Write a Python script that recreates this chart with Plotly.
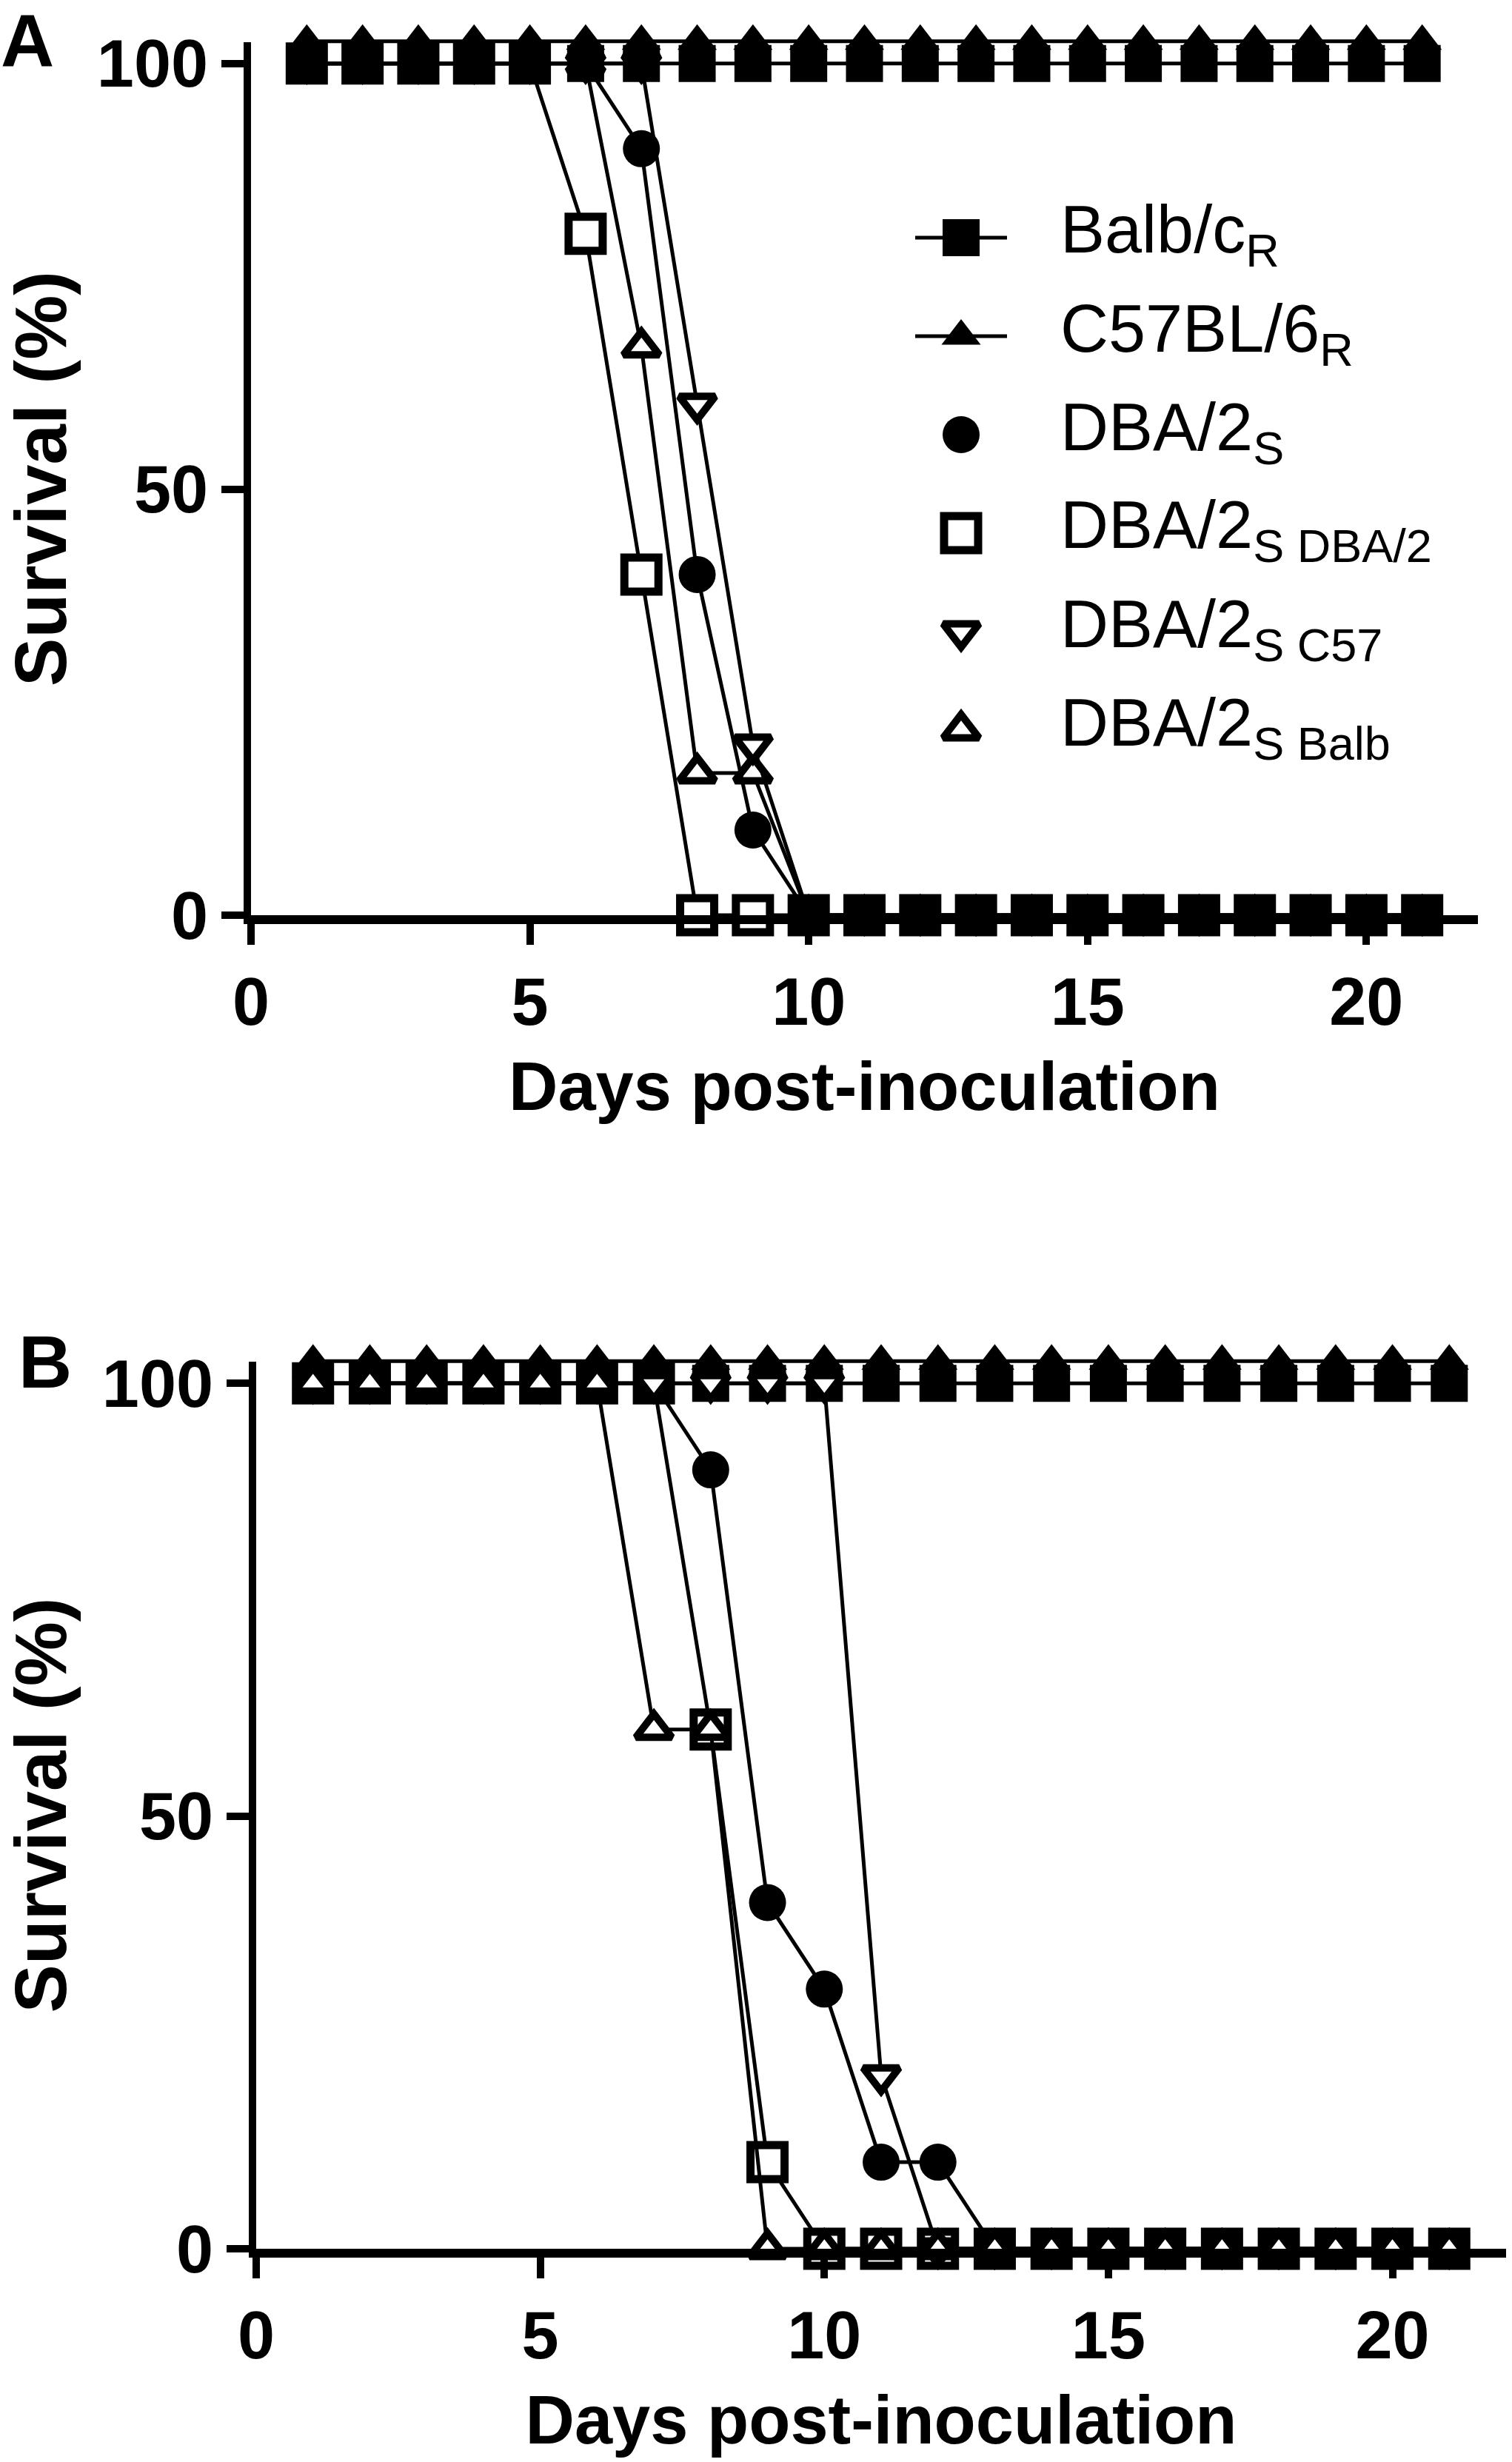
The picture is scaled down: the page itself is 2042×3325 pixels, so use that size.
import plotly.graph_objects as go

# ---------------- data ----------------
days = [1, 2, 3, 4, 5, 6, 7, 8, 9, 10, 11, 12, 13, 14, 15, 16, 17, 18, 19, 20, 21]

x_ticks = [0, 5, 10, 15, 20]
y_ticks = [0, 50, 100]
x_title = "Days post-inoculation"
y_title = "Survival (%)"

legend_labels = ["Balb/c<sub>R</sub>", "C57BL/6<sub>R</sub>", "DBA/2<sub>S</sub>",
                 "DBA/2<sub>S DBA/2</sub>", "DBA/2<sub>S C57</sub>", "DBA/2<sub>S Balb</sub>"]
series_keys = ["balb", "c57", "dba", "dba_dba", "dba_c57", "dba_balb"]

# Panel A
A_balb     = [100, 100, 100, 100, 100, 100, 100, 100, 100, 100, 100, 100, 100, 100, 100, 100, 100, 100, 100, 100, 100]
A_c57      = [100, 100, 100, 100, 100, 100, 100, 100, 100, 100, 100, 100, 100, 100, 100, 100, 100, 100, 100, 100, 100]
A_dba      = [100, 100, 100, 100, 100, 100, 90, 40, 10, 0, 0, 0, 0, 0, 0, 0, 0, 0, 0, 0, 0]
A_dba_dba  = [100, 100, 100, 100, 100, 80, 40, 0, 0, 0, 0, 0, 0, 0, 0, 0, 0, 0, 0, 0, 0]
A_dba_c57  = [100, 100, 100, 100, 100, 100, 100, 60, 20, 0, 0, 0, 0, 0, 0, 0, 0, 0, 0, 0, 0]
A_dba_balb = [100, 100, 100, 100, 100, 100, 66.7, 16.7, 16.7, 0, 0, 0, 0, 0, 0, 0, 0, 0, 0, 0, 0]

# Panel B
B_balb     = [100, 100, 100, 100, 100, 100, 100, 100, 100, 100, 100, 100, 100, 100, 100, 100, 100, 100, 100, 100, 100]
B_c57      = [100, 100, 100, 100, 100, 100, 100, 100, 100, 100, 100, 100, 100, 100, 100, 100, 100, 100, 100, 100, 100]
B_dba      = [100, 100, 100, 100, 100, 100, 100, 90, 40, 30, 10, 10, 0, 0, 0, 0, 0, 0, 0, 0, 0]
B_dba_dba  = [100, 100, 100, 100, 100, 100, 100, 60, 10, 0, 0, 0, 0, 0, 0, 0, 0, 0, 0, 0, 0]
B_dba_c57  = [100, 100, 100, 100, 100, 100, 100, 100, 100, 100, 20, 0, 0, 0, 0, 0, 0, 0, 0, 0, 0]
B_dba_balb = [100, 100, 100, 100, 100, 100, 60, 60, 0, 0, 0, 0, 0, 0, 0, 0, 0, 0, 0, 0, 0]

panel_A = {"balb": A_balb, "c57": A_c57, "dba": A_dba, "dba_dba": A_dba_dba,
           "dba_c57": A_dba_c57, "dba_balb": A_dba_balb}
panel_B = {"balb": B_balb, "c57": B_c57, "dba": B_dba, "dba_dba": B_dba_dba,
           "dba_c57": B_dba_c57, "dba_balb": B_dba_balb}

# ---------------- styles / layout constants ----------------
W, H = 2042, 3325
FONT = "Liberation Sans, Arial, Helvetica, sans-serif"
BLACK = "black"

STYLE = {
    "balb":     dict(symbol="square", size=50, color=BLACK, line=dict(width=0)),
    "c57":      dict(symbol="triangle-up", size=46, color=BLACK, line=dict(width=0)),
    "dba":      dict(symbol="circle", size=50, color=BLACK, line=dict(width=0)),
    "dba_dba":  dict(symbol="square", size=46, color="white", line=dict(width=11, color=BLACK)),
    "dba_c57":  dict(symbol="triangle-down", size=42, color="white", line=dict(width=10, color=BLACK)),
    "dba_balb": dict(symbol="triangle-up", size=42, color="white", line=dict(width=10, color=BLACK)),
}
LINE_W = 5
Y_MAX = 102.5
C57_SHIFT_PX = 30   # the overlapping C57BL/6 curve is drawn slightly above the others, as in the original

# plot-area pixel boxes
PA = dict(x0=339, x1=1996, yb=1236, yt=57)
PB = dict(x0=346, x1=2034, yb=3037, yt=1839)


def dom_x(p):
    return [p["x0"] / W, p["x1"] / W]


def dom_y(p, shift=0):
    return [1 - (p["yb"] - shift) / H, 1 - (p["yt"] - shift) / H]


def px(x):
    return x / W


def py(y):
    return 1 - y / H


fig = go.Figure()

# drawing order (later = on top), as stacked in the original panels
order_A = ["dba_balb", "dba_c57", "dba_dba", "dba", "balb"]
order_B = ["dba_dba", "balb", "dba", "dba_c57", "dba_balb"]

for data, order, xa, ya, ya_shift in [(panel_A, order_A, "x", "y", "y3"),
                                      (panel_B, order_B, "x2", "y2", "y4")]:
    for k in order:
        fig.add_trace(go.Scatter(x=days, y=data[k], mode="lines+markers",
                                 line=dict(color=BLACK, width=LINE_W), marker=STYLE[k],
                                 cliponaxis=False, showlegend=False, xaxis=xa, yaxis=ya))
    fig.add_trace(go.Scatter(x=days, y=data["c57"], mode="lines+markers",
                             line=dict(color=BLACK, width=LINE_W), marker=STYLE["c57"],
                             cliponaxis=False, showlegend=False, xaxis=xa, yaxis=ya_shift))

# ---------------- custom legend ----------------
LEG_SYM_X = 1298
LEG_LINE_HALF = 62
LEG_TEXT_X = 1430
LEG_Y0 = 321
LEG_DY = 133

shapes = []
annotations = []
for i, (k, lab) in enumerate(zip(series_keys, legend_labels)):
    yy = LEG_Y0 + i * LEG_DY
    if k in ("balb", "c57"):
        shapes.append(dict(type="line", xref="paper", yref="paper",
                           x0=px(LEG_SYM_X - LEG_LINE_HALF), x1=px(LEG_SYM_X + LEG_LINE_HALF),
                           y0=py(yy), y1=py(yy),
                           line=dict(color=BLACK, width=LINE_W), layer="below"))
    fig.add_trace(go.Scatter(x=[LEG_SYM_X], y=[yy], mode="markers", marker=STYLE[k],
                             showlegend=False, xaxis="x5", yaxis="y5", hoverinfo="skip"))
    annotations.append(dict(text=lab, x=px(LEG_TEXT_X), y=py(yy - 4), xref="paper", yref="paper",
                            xanchor="left", yanchor="middle", showarrow=False,
                            font=dict(family=FONT, size=90, color=BLACK)))

# panel letters
for letter, lx, ly in [("A", 37, 55), ("B", 61, 1839)]:
    annotations.append(dict(text=letter, x=px(lx), y=py(ly), xref="paper", yref="paper",
                            xanchor="center", yanchor="middle", showarrow=False,
                            font=dict(family=FONT, size=100, color=BLACK, weight="bold")))

tickfont = dict(family=FONT, size=90, color=BLACK, weight="bold")
xcommon = dict(range=[0, 22], showline=True, linewidth=12, linecolor=BLACK, ticks="outside",
               ticklen=28, tickwidth=10, tickcolor=BLACK, tickvals=x_ticks, tickfont=tickfont,
               showgrid=False, zeroline=False, fixedrange=True, automargin=False,
               title=dict(text=x_title, standoff=38,
                          font=dict(family=FONT, size=92, color=BLACK, weight="bold")))
ycommon = dict(range=[0, Y_MAX], showline=True, linewidth=10, linecolor=BLACK, ticks="outside",
               ticklen=30, tickwidth=10, tickcolor=BLACK, tickvals=y_ticks, tickfont=tickfont,
               showgrid=False, zeroline=False, fixedrange=True, automargin=False,
               title=dict(text=y_title, standoff=36,
                          font=dict(family=FONT, size=98, color=BLACK, weight="bold")))
hidden_y = dict(range=[0, Y_MAX], visible=False, fixedrange=True, automargin=False,
                showgrid=False, zeroline=False)

fig.update_layout(
    width=W, height=H, autosize=False,
    margin=dict(l=0, r=0, t=0, b=0, pad=0, autoexpand=False),
    paper_bgcolor="white", plot_bgcolor="rgba(0,0,0,0)",
    showlegend=False,
    font=dict(family=FONT, size=90, color=BLACK),
    xaxis=dict(domain=dom_x(PA), anchor="y", **xcommon),
    yaxis=dict(domain=dom_y(PA), anchor="x", **ycommon),
    yaxis3=dict(domain=dom_y(PA, C57_SHIFT_PX), anchor="x", **hidden_y),
    xaxis2=dict(domain=dom_x(PB), anchor="y2", **xcommon),
    yaxis2=dict(domain=dom_y(PB), anchor="x2", **ycommon),
    yaxis4=dict(domain=dom_y(PB, C57_SHIFT_PX), anchor="x2", **hidden_y),
    xaxis5=dict(domain=[0, 1], anchor="y5", range=[0, W], visible=False, fixedrange=True,
                automargin=False, showgrid=False, zeroline=False),
    yaxis5=dict(domain=[0, 1], anchor="x5", range=[H, 0], visible=False, fixedrange=True,
                automargin=False, showgrid=False, zeroline=False),
    shapes=shapes,
    annotations=annotations,
)

fig.write_html("out.html")
